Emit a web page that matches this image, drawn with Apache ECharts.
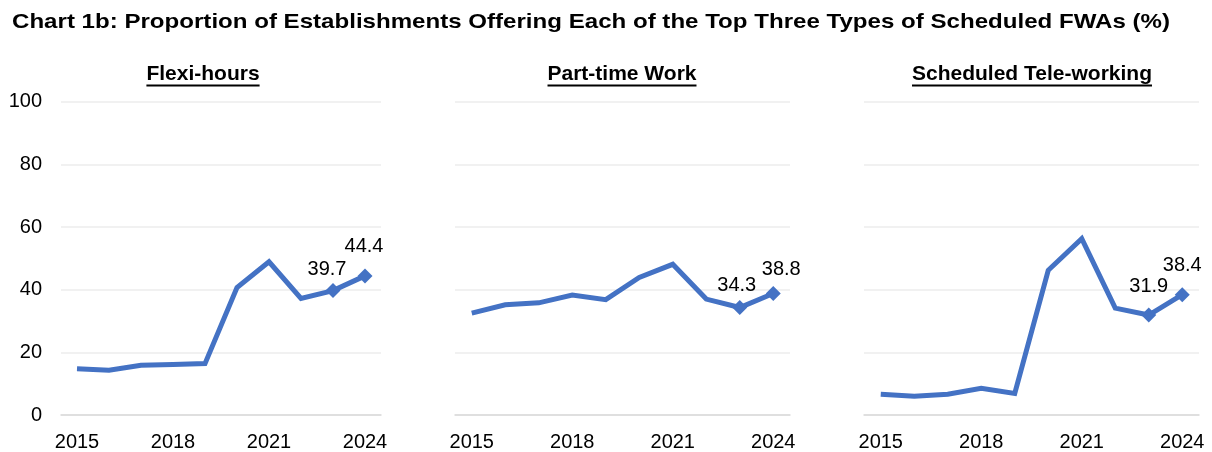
<!DOCTYPE html>
<html>
<head>
<meta charset="utf-8">
<script src="https://cdn.jsdelivr.net/npm/echarts@6/dist/echarts.min.js"></script>
<style>
  html, body { margin: 0; padding: 0; background: #fff; }
  #chart { width: 1212px; height: 452px; }
</style>
</head>
<body>
<div id="chart"></div>
<script>
// Survey years shared by every panel
const years = ['2015', '2016', '2017', '2018', '2019', '2020', '2021', '2022', '2023', '2024'];

// Share of establishments offering each arrangement (%)
const flexiHours = [14.8, 14.3, 15.9, 16.1, 16.4, 40.7, 48.9, 37.2, 39.7, 44.4];
const partTime = [32.5, 35.2, 35.8, 38.3, 36.8, 43.9, 48.1, 37.0, 34.3, 38.8];
const teleWorking = [6.6, 6.0, 6.6, 8.5, 6.9, 46.2, 56.3, 34.1, 31.9, 38.4];

const chartTitle = 'Chart 1b: Proportion of Establishments Offering Each of the Top Three Types of Scheduled FWAs (%)';
const panelTitles = ['Flexi-hours', 'Part-time Work', 'Scheduled Tele-working'];
const yTicks = [0, 20, 40, 60, 80, 100];

const FONT = '"Liberation Sans", Arial, sans-serif';
const BLUE = '#4472C4';

// Panel frames (plot areas) in pixels
const grids = [
  { left: 61, width: 320 },
  { left: 455, width: 335 },
  { left: 864, width: 335 }
];
const titleCenters = [203, 622, 1032];

// Nudges for the value labels on the last two years of each panel
const labelNudges = [
  [[-6, -4], [-1, -12]],
  [[-3, -5], [8, -6]],
  [[0, -11], [0, -12]]
];

const seriesValues = [flexiHours, partTime, teleWorking];

function measure(text, font) {
  const ctx = document.createElement('canvas').getContext('2d');
  ctx.font = font;
  return ctx.measureText(text).width;
}

const chart = echarts.init(document.getElementById('chart'), null, { renderer: 'canvas' });

const gridOpts = grids.map(g => ({ left: g.left, width: g.width, top: 101.7, height: 315 }));

const xAxes = grids.map((g, i) => ({
  type: 'category',
  gridIndex: i,
  data: years,
  boundaryGap: true,
  axisLine: { show: true, lineStyle: { color: '#d9d9d9', width: 1.5 } },
  axisTick: { show: false },
  axisLabel: {
    interval: 2,
    color: '#000',
    fontFamily: FONT,
    fontSize: 20,
    margin: 17
  }
}));

const yAxes = grids.map((g, i) => ({
  type: 'value',
  gridIndex: i,
  min: 0,
  max: 100,
  interval: 20,
  axisLine: { show: false },
  axisTick: { show: false },
  splitLine: { show: true, lineStyle: { color: '#ececec', width: 1.5 } },
  axisLabel: {
    show: i === 0,
    color: '#000',
    fontFamily: FONT,
    fontSize: 20,
    margin: 19,
    formatter: v => (yTicks.includes(v) ? String(v) : '')
  }
}));

const series = seriesValues.map((vals, p) => ({
  type: 'line',
  xAxisIndex: p,
  yAxisIndex: p,
  showSymbol: true,
  lineStyle: { color: BLUE, width: 5, join: 'miter' },
  itemStyle: { color: BLUE },
  emphasis: { disabled: true },
  animation: false,
  data: vals.map((v, i) => {
    const k = i - (vals.length - 2);
    if (k < 0) return { value: v, symbol: 'none' };
    return {
      value: v,
      symbol: 'diamond',
      symbolSize: 15,
      label: {
        show: true,
        position: 'top',
        distance: 0,
        offset: labelNudges[p][k],
        color: '#000',
        fontFamily: FONT,
        fontSize: 20,
        formatter: p2 => p2.value.toFixed(1)
      }
    };
  })
}));

// Main heading, stretched slightly wider than the plain font
const headFont = 'bold 21px ' + FONT;
const headWidth = measure(chartTitle, headFont);
const graphics = [{
  type: 'text',
  x: 12,
  y: 22.5,
  scaleX: 1158 / headWidth,
  style: { text: chartTitle, font: headFont, fill: '#000', verticalAlign: 'middle' }
}];

// Underlined panel headings
const subFont = 'bold 21px ' + FONT;
panelTitles.forEach((t, i) => {
  const w = measure(t, subFont);
  graphics.push({
    type: 'text',
    x: titleCenters[i] - w / 2,
    y: 74,
    style: { text: t, font: subFont, fill: '#000', verticalAlign: 'middle' }
  });
  graphics.push({
    type: 'rect',
    x: titleCenters[i] - w / 2,
    y: 84.5,
    shape: { width: w, height: 2 },
    style: { fill: '#000' }
  });
});

chart.setOption({
  backgroundColor: '#fff',
  animation: false,
  grid: gridOpts,
  xAxis: xAxes,
  yAxis: yAxes,
  series: series,
  graphic: graphics
});
</script>
</body>
</html>
